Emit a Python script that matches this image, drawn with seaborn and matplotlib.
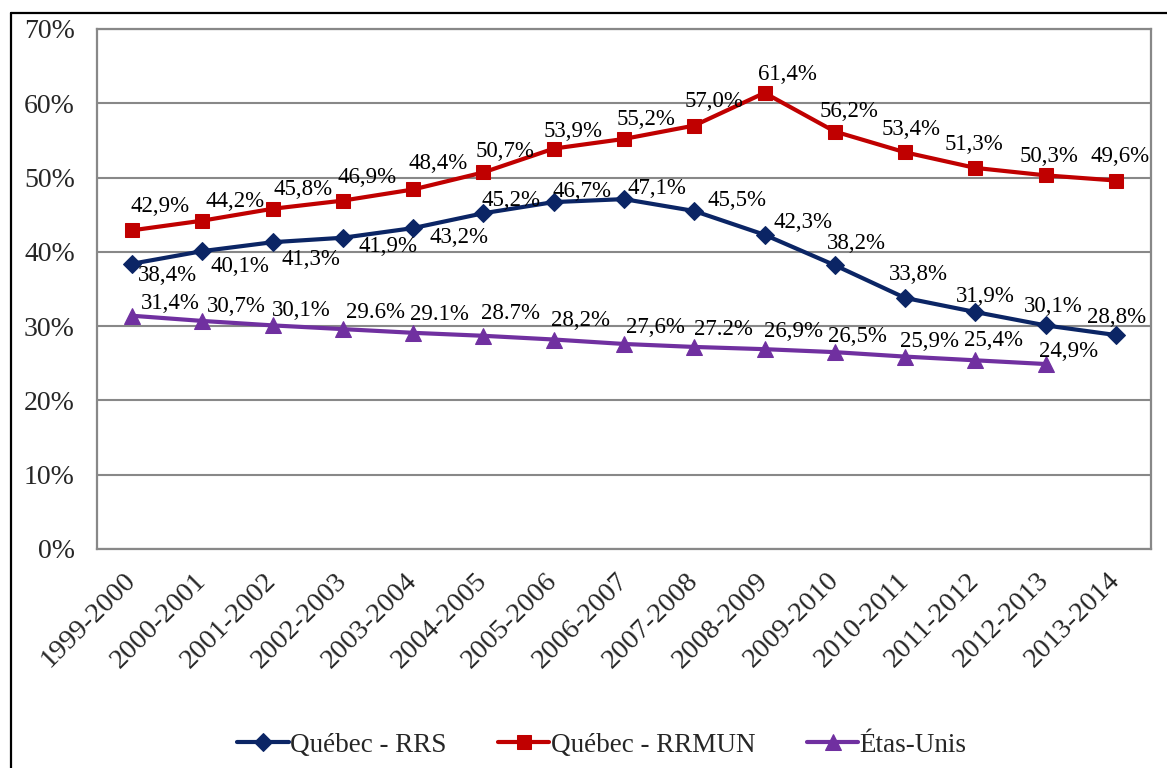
import numpy as np
import pandas as pd
import seaborn as sns
import matplotlib.pyplot as plt
from matplotlib.lines import Line2D
from matplotlib.ticker import FixedLocator, FuncFormatter

# années scolaires
years = ['1999-2000', '2000-2001', '2001-2002', '2002-2003', '2003-2004',
         '2004-2005', '2005-2006', '2006-2007', '2007-2008', '2008-2009',
         '2009-2010', '2010-2011', '2011-2012', '2012-2013', '2013-2014']

# taux (%)
rrs = [38.4, 40.1, 41.3, 41.9, 43.2, 45.2, 46.7, 47.1, 45.5, 42.3, 38.2, 33.8, 31.9, 30.1, 28.8]
rrmun = [42.9, 44.2, 45.8, 46.9, 48.4, 50.7, 53.9, 55.2, 57.0, 61.4, 56.2, 53.4, 51.3, 50.3, 49.6]
usa = [31.4, 30.7, 30.1, 29.6, 29.1, 28.7, 28.2, 27.6, 27.2, 26.9, 26.5, 25.9, 25.4, 24.9]

# étiquettes telles qu'affichées
rrs_labels = ['38,4%', '40,1%', '41,3%', '41,9%', '43,2%', '45,2%', '46,7%', '47,1%',
              '45,5%', '42,3%', '38,2%', '33,8%', '31,9%', '30,1%', '28,8%']
rrmun_labels = ['42,9%', '44,2%', '45,8%', '46,9%', '48,4%', '50,7%', '53,9%', '55,2%',
                '57,0%', '61,4%', '56,2%', '53,4%', '51,3%', '50,3%', '49,6%']
usa_labels = ['31,4%', '30,7%', '30,1%', '29.6%', '29.1%', '28.7%', '28,2%', '27,6%',
              '27.2%', '26,9%', '26,5%', '25,9%', '25,4%', '24,9%']

# décalages des étiquettes (pixels, x droite / y haut)
rrs_off = [(35, -12), (38, -15), (38, -17), (45, -9), (46, -9), (28, 13), (28, 11), (33, 11),
           (43, 10), (38, 12), (22, 22), (13, 23), (10, 16), (8, 19), (1, 18)]
rrmun_off = [(28, 24), (33, 19), (30, 19), (24, 23), (25, 26), (22, 21), (19, 17), (22, 19),
             (20, 24), (23, 18), (14, 20), (6, 23), (-1, 23), (3, 19), (4, 24)]
usa_off = [(38, 12), (34, 14), (29, 15), (33, 17), (26, 18), (27, 22), (27, 19), (31, 16),
           (29, 17), (29, 18), (23, 16), (24, 15), (18, 20), (23, 13)]

sns.set_style('white')
plt.rcParams['font.family'] = ['Liberation Serif', 'DejaVu Serif']

fig = plt.figure(figsize=(11.67, 7.68), dpi=100)
ax = fig.add_axes([97 / 1167, 1 - 549 / 768, 1054 / 1167, 520 / 768])

grid_col = '#888888'
series = [
    ('Québec - RRS', rrs, '#0B2565', 'D', 9.5, rrs_labels, rrs_off),
    ('Québec - RRMUN', rrmun, '#C00000', 's', 10, rrmun_labels, rrmun_off),
    ('Étas-Unis', usa, '#7030A0', '^', 11, usa_labels, usa_off),
]

x = np.arange(len(years))
for name, vals, col, mk, ms, labels, offs in series:
    xs = x[:len(vals)]
    sns.lineplot(x=xs, y=vals, ax=ax, color=col, linewidth=3, marker=mk, markersize=ms,
                 markeredgecolor=col, label=name, sort=False, zorder=3)
    for xi, v, lab, (dx, dy) in zip(xs, vals, labels, offs):
        ax.annotate(lab, (xi, v), xytext=(dx, dy), textcoords='offset pixels',
                    ha='center', va='center', fontsize=16.5, color='black', zorder=4)

ax.set_xlim(-0.5, len(years) - 0.5)
ax.set_ylim(0, 70)
ax.yaxis.set_major_locator(FixedLocator(np.arange(0, 71, 10)))
ax.yaxis.set_major_formatter(FuncFormatter(lambda v, p: f'{v:.0f}%'))
ax.grid(axis='y', color=grid_col, linewidth=1.5)
ax.set_axisbelow(True)
for s in ax.spines.values():
    s.set_color(grid_col)
    s.set_linewidth(1.6)

ax.set_xticks(x)
ax.set_xticklabels(years, rotation=45, ha='right', va='center', rotation_mode='anchor')
ax.xaxis.set_minor_locator(FixedLocator(np.arange(0.5, len(years) - 1, 1)))
ax.tick_params(axis='x', which='major', length=0, pad=20, labelsize=20.5)
ax.tick_params(axis='x', which='minor', direction='in', length=6, width=1.5, color=grid_col)
ax.tick_params(axis='y', length=0, pad=16, labelsize=20)
ax.set_xlabel('')
ax.set_ylabel('')

leg = ax.legend(loc='center', bbox_to_anchor=(602 / 1167, 1 - 745 / 768),
                bbox_transform=fig.transFigure, ncol=3, frameon=False, fontsize=19.5,
                handlelength=1.9, handletextpad=0.05, columnspacing=1.9)

# cadre extérieur (gauche et haut)
fx, fy = 10.5 / 1167, 1 - 12.5 / 768
fig.add_artist(Line2D([fx, fx], [0, fy], transform=fig.transFigure, color='black', linewidth=1.6))
fig.add_artist(Line2D([fx, 1], [fy, fy], transform=fig.transFigure, color='black', linewidth=1.6))

fig.savefig('out.png', dpi=100)
